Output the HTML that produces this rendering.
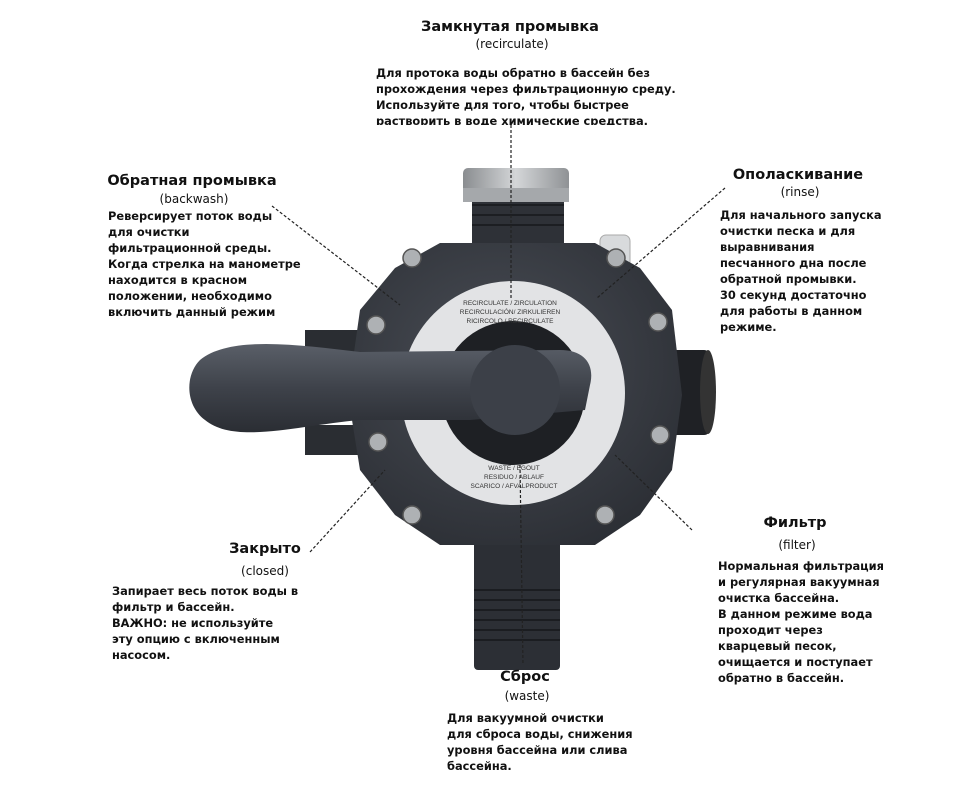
<!DOCTYPE html>
<html><head><meta charset="utf-8"><style>
body{margin:0;width:980px;height:800px;background:#fff;position:relative;overflow:hidden;font-family:"DejaVu Sans","Liberation Sans",sans-serif;color:#111}
.t{position:absolute;font-weight:bold;font-size:14.5px;white-space:nowrap;transform:translateX(-50%)}
.s{position:absolute;font-size:12px;white-space:nowrap;transform:translateX(-50%)}
.b{position:absolute;font-weight:bold;font-size:11.4px;line-height:16px;white-space:nowrap}
svg{position:absolute;left:0;top:0}
</style></head><body>
<svg width="980" height="800" viewBox="0 0 980 800">
<defs>
<radialGradient id="g1" cx="0.45" cy="0.4" r="0.7"><stop offset="0" stop-color="#4a4e56"/><stop offset="1" stop-color="#2a2d33"/></radialGradient>
<linearGradient id="cap" x1="0" x2="1"><stop offset="0" stop-color="#8a8d90"/><stop offset="0.5" stop-color="#d4d6d8"/><stop offset="1" stop-color="#8f9295"/></linearGradient>
<linearGradient id="hd" x1="0" y1="0" x2="0" y2="1"><stop offset="0" stop-color="#5a5f68"/><stop offset="0.5" stop-color="#3e424a"/><stop offset="1" stop-color="#2a2d33"/></linearGradient>
</defs>
<rect x="472" y="195" width="92" height="60" fill="#2e3137"/>
<g stroke="#1c1e22" stroke-width="2"><line x1="472" y1="205" x2="564" y2="205"/><line x1="472" y1="215" x2="564" y2="215"/><line x1="472" y1="225" x2="564" y2="225"/></g>
<rect x="463" y="168" width="106" height="34" rx="5" fill="url(#cap)"/>
<rect x="463" y="188" width="106" height="14" fill="#a5a8ab"/>
<rect x="600" y="235" width="30" height="45" rx="6" fill="#d8dadc" stroke="#aaa"/>
<rect x="474" y="500" width="86" height="170" rx="4" fill="#2c2f35"/>
<g stroke="#1b1d21" stroke-width="2"><line x1="474" y1="590" x2="560" y2="590"/><line x1="474" y1="600" x2="560" y2="600"/><line x1="474" y1="610" x2="560" y2="610"/><line x1="474" y1="620" x2="560" y2="620"/><line x1="474" y1="630" x2="560" y2="630"/><line x1="474" y1="640" x2="560" y2="640"/></g>
<rect x="655" y="350" width="55" height="85" rx="6" fill="#1f2125"/>
<ellipse cx="708" cy="392" rx="8" ry="42" fill="#333"/>
<rect x="305" y="330" width="60" height="30" fill="#2a2d32"/>
<rect x="305" y="425" width="60" height="30" fill="#2a2d32"/>
<polygon points="440,243 595,243 640,268 672,310 682,395 672,470 640,515 595,545 440,545 395,515 360,470 348,395 360,310 395,268" fill="url(#g1)"/>
<g fill="#aeb1b4" stroke="#555" stroke-width="1.5">
<circle cx="412" cy="258" r="9"/><circle cx="616" cy="258" r="9"/><circle cx="376" cy="325" r="9"/><circle cx="658" cy="322" r="9"/>
<circle cx="378" cy="442" r="9"/><circle cx="660" cy="435" r="9"/><circle cx="412" cy="515" r="9"/><circle cx="605" cy="515" r="9"/>
</g>
<circle cx="513" cy="393" r="112" fill="#e2e3e5"/>
<circle cx="513" cy="393" r="72" fill="#1e2024"/>
<g font-family="Liberation Sans,sans-serif" font-size="6.5" fill="#333" text-anchor="middle">
<text x="510" y="305">RECIRCULATE / ZIRCULATION</text>
<text x="510" y="314">RECIRCULACIÓN/ ZIRKULIEREN</text>
<text x="510" y="323">RICIRCOLO / RECIRCULATE</text>
<text x="514" y="470">WASTE / EGOUT</text>
<text x="514" y="479">RESIDUO / ABLAUF</text>
<text x="514" y="488">SCARICO / AFVALPRODUCT</text>
</g>
<path d="M200,360 C230,335 300,345 360,352 L560,350 C585,350 595,365 590,385 L585,410 L470,420 L360,420 C300,425 235,445 205,420 C185,405 185,375 200,360Z" fill="url(#hd)"/>
<circle cx="515" cy="390" r="45" fill="#3c4048"/>
<g stroke="#222" stroke-width="1.2" stroke-dasharray="3,2" fill="none">
<line x1="511" y1="125" x2="511" y2="300"/>
<line x1="520" y1="465" x2="523" y2="665"/>
<line x1="272" y1="206" x2="400" y2="305"/>
<line x1="725" y1="188" x2="597" y2="298"/>
<line x1="310" y1="552" x2="385" y2="470"/>
<line x1="692" y1="530" x2="615" y2="455"/>
</g>
</svg>

<div class="t" style="left:510px;top:19px">Замкнутая промывка</div>
<div class="s" style="left:512px;top:37px">(recirculate)</div>
<div class="b" style="left:376px;top:65px">Для протока воды обратно в бассейн без<br>прохождения через фильтрационную среду.<br>Используйте для того, чтобы быстрее<br><span style="display:inline-block;height:12px;overflow:hidden;vertical-align:top">растворить в воде химические средства.</span></div>

<div class="t" style="left:192px;top:173px">Обратная промывка</div>
<div class="s" style="left:194px;top:192px">(backwash)</div>
<div class="b" style="left:108px;top:208px">Реверсирует поток воды<br>для очистки<br>фильтрационной среды.<br>Когда стрелка на манометре<br>находится в красном<br>положении, необходимо<br>включить данный режим</div>

<div class="t" style="left:798px;top:167px">Ополаскивание</div>
<div class="s" style="left:800px;top:185px">(rinse)</div>
<div class="b" style="left:720px;top:207px">Для начального запуска<br>очистки песка и для<br>выравнивания<br>песчанного дна после<br>обратной промывки.<br>30 секунд достаточно<br>для работы в данном<br>режиме.</div>

<div class="t" style="left:265px;top:541px">Закрыто</div>
<div class="s" style="left:265px;top:564px">(closed)</div>
<div class="b" style="left:112px;top:583px">Запирает весь поток воды в<br>фильтр и бассейн.<br>ВАЖНО: не используйте<br>эту опцию с включенным<br>насосом.</div>

<div class="t" style="left:795px;top:515px">Фильтр</div>
<div class="s" style="left:797px;top:538px">(filter)</div>
<div class="b" style="left:718px;top:558px">Нормальная фильтрация<br>и регулярная вакуумная<br>очистка бассейна.<br>В данном режиме вода<br>проходит через<br>кварцевый песок,<br>очищается и поступает<br>обратно в бассейн.</div>

<div class="t" style="left:525px;top:669px">Сброс</div>
<div class="s" style="left:527px;top:689px">(waste)</div>
<div class="b" style="left:447px;top:710px">Для вакуумной очистки<br>для сброса воды, снижения<br>уровня бассейна или слива<br>бассейна.</div>
</body></html>
